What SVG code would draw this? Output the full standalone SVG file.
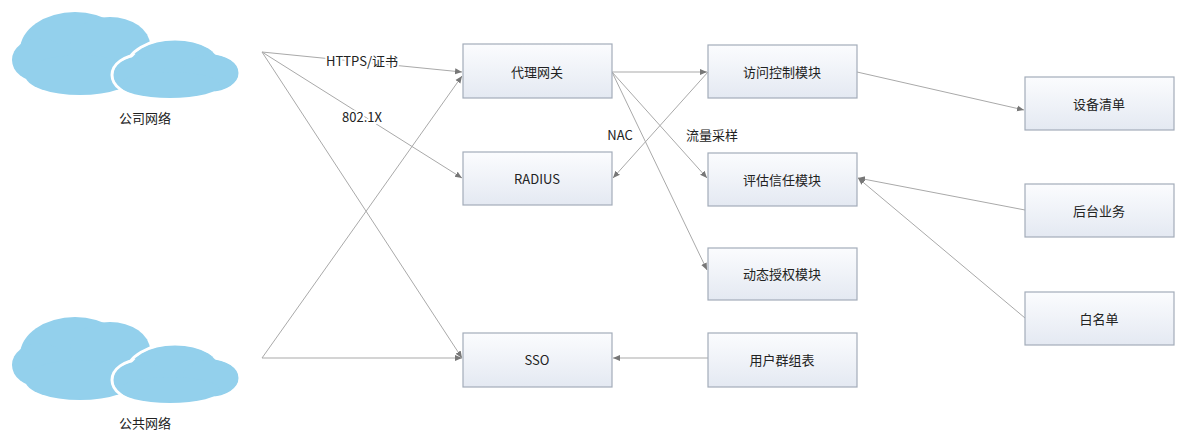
<svg xmlns="http://www.w3.org/2000/svg" width="1190" height="435" viewBox="0 0 1190 435">
<style>
.b{fill:url(#g);stroke:#a3acb9;stroke-width:1.2}
.t{font-family:"Noto Sans CJK SC","Liberation Sans",sans-serif;font-size:13px;fill:#222;text-anchor:middle;dominant-baseline:central}
.c{stroke:#a9a9a9;stroke-width:1;fill:none;marker-end:url(#a)}
.l{font-family:"Noto Sans CJK SC","Liberation Sans",sans-serif;font-size:13px;fill:#222;text-anchor:middle}
.cl{fill:#93d0ec}
</style>
<defs>
<linearGradient id="g" x1="0" y1="0" x2="0" y2="1"><stop offset="0" stop-color="#fbfcfe"/><stop offset="1" stop-color="#e4e9f2"/></linearGradient>
<marker id="a" markerWidth="8" markerHeight="8" refX="7" refY="4" orient="auto" markerUnits="userSpaceOnUse"><path d="M0,1 L7,4 L0,7 z" fill="#777"/></marker>
<g id="cloud">
<g class="cl"><ellipse cx="75" cy="45" rx="55" ry="38"/><ellipse cx="40" cy="55" rx="28" ry="22"/><ellipse cx="110" cy="40" rx="40" ry="28"/><ellipse cx="80" cy="70" rx="55" ry="20"/></g>
<g class="cl" stroke="#fff" stroke-width="3"><ellipse cx="175" cy="62" rx="48" ry="28"/><ellipse cx="140" cy="70" rx="28" ry="20"/><ellipse cx="210" cy="68" rx="30" ry="20"/></g>
<g class="cl"><ellipse cx="175" cy="62" rx="46" ry="26"/><ellipse cx="140" cy="70" rx="26" ry="18"/><ellipse cx="210" cy="68" rx="28" ry="18"/><ellipse cx="170" cy="80" rx="50" ry="13"/></g>
</g>
</defs>
<rect width="1190" height="435" fill="#fff"/>
<g id="n-corp"><use href="#cloud" x="0" y="5"/><text class="t" x="145" y="117">公司网络</text></g>
<g id="n-public"><use href="#cloud" x="0" y="310"/><text class="t" x="145" y="422">公共网络</text></g>
<g id="connectors">
<path class="c" d="M262,52 L462,72"/>
<path class="c" d="M262,52 L462,178"/>
<path class="c" d="M262,52 L462,358"/>
<path class="c" d="M262,358 L462,76"/>
<path class="c" d="M262,358 L462,358"/>
<path class="c" d="M612,72 L707,72"/>
<path class="c" d="M612,72 L707,178"/>
<path class="c" d="M612,72 L707,270"/>
<path class="c" d="M708,72 L613,178"/>
<path class="c" d="M857,72 L1024,110"/>
<path class="c" d="M1025,210 L858,178"/>
<path class="c" d="M1025,318 L858,178"/>
<path class="c" d="M708,358 L613,358"/>
<text class="l" x="362" y="66" style="paint-order:stroke;stroke:#fff;stroke-width:4">HTTPS/证书</text>
<text class="l" x="362" y="122" style="paint-order:stroke;stroke:#fff;stroke-width:4">802.1X</text>
<text class="l" x="620" y="140" style="paint-order:stroke;stroke:#fff;stroke-width:4">NAC</text>
<text class="l" x="712" y="140" style="paint-order:stroke;stroke:#fff;stroke-width:4">流量采样</text>
</g>
<g id="n-proxy"><rect class="b" x="463" y="44" width="149" height="54"/><text class="t" x="537" y="71">代理网关</text></g>
<g id="n-radius"><rect class="b" x="463" y="152" width="149" height="53"/><text class="t" x="537" y="178">RADIUS</text></g>
<g id="n-sso"><rect class="b" x="463" y="333" width="149" height="54"/><text class="t" x="537" y="359">SSO</text></g>
<g id="n-acm"><rect class="b" x="708" y="45" width="149" height="53"/><text class="t" x="782" y="71">访问控制模块</text></g>
<g id="n-trust"><rect class="b" x="708" y="153" width="149" height="53"/><text class="t" x="782" y="179">评估信任模块</text></g>
<g id="n-auth"><rect class="b" x="708" y="248" width="149" height="52"/><text class="t" x="782" y="273">动态授权模块</text></g>
<g id="n-group"><rect class="b" x="708" y="333" width="149" height="54"/><text class="t" x="782" y="359">用户群组表</text></g>
<g id="n-dev"><rect class="b" x="1025" y="77" width="149" height="53"/><text class="t" x="1099" y="103">设备清单</text></g>
<g id="n-back"><rect class="b" x="1025" y="184" width="149" height="53"/><text class="t" x="1099" y="210">后台业务</text></g>
<g id="n-white"><rect class="b" x="1025" y="292" width="149" height="53"/><text class="t" x="1099" y="318">白名单</text></g>
</svg>
